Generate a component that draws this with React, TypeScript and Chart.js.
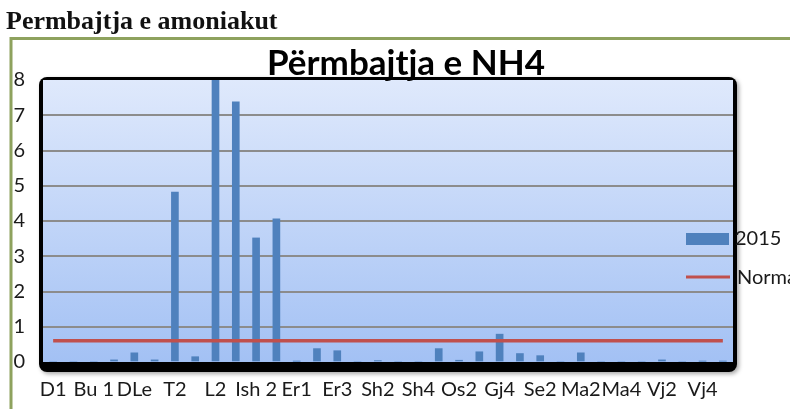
import React, { useEffect, useRef } from 'react';
import { Chart, registerables } from 'chart.js';

Chart.register(...registerables);

const categories = [
  'D1', 'D2', 'Bu 1', 'Bu 2', 'DLe', 'T1', 'T2', 'L1', 'L2', 'Ish 1',
  'Ish 2', 'Ish 3', 'Er1', 'Er2', 'Er3', 'Sh1', 'Sh2', 'Sh3', 'Sh4', 'Os1',
  'Os2', 'Gj3', 'Gj4', 'Se1', 'Se2', 'Ma1', 'Ma2', 'Ma3', 'Ma4', 'Vj1',
  'Vj2', 'Vj3', 'Vj4', 'Vj5',
];

const values2015 = [
  0, 0, 0, 0.06, 0.26, 0.06, 4.82, 0.15, 8.0, 7.38,
  3.52, 4.06, 0.02, 0.38, 0.32, 0, 0.04, 0, 0, 0.38,
  0.05, 0.29, 0.79, 0.24, 0.18, 0, 0.26, 0, 0, 0,
  0.06, 0, 0.02, 0.02,
];

const normaValues = [
  0.6, 0.6, 0.6, 0.6, 0.6, 0.6, 0.6, 0.6, 0.6, 0.6,
  0.6, 0.6, 0.6, 0.6, 0.6, 0.6, 0.6, 0.6, 0.6, 0.6,
  0.6, 0.6, 0.6, 0.6, 0.6, 0.6, 0.6, 0.6, 0.6, 0.6,
  0.6, 0.6, 0.6, 0.6,
];

const yTickValues = [0, 1, 2, 3, 4, 5, 6, 7, 8];

const pageHeading = 'Permbajtja e amoniakut';
const chartTitle = 'Përmbajtja e NH4';
const seriesLabels = ['2015', 'Norma'];

const BAR_COLOR = '#4f81bd';
const LINE_COLOR = '#c0504d';
const TEXT_COLOR = '#1a1a1a';

const decorPlugin = {
  id: 'decor',
  beforeDraw(chart: any) {
    const { ctx, chartArea, width, height } = chart;
    const { left, right, top, bottom } = chartArea;
    ctx.save();
    ctx.fillStyle = '#ffffff';
    ctx.fillRect(0, 0, width, height);

    // page heading
    ctx.fillStyle = '#111111';
    ctx.font = 'bold 26px "Liberation Serif"';
    ctx.textBaseline = 'alphabetic';
    ctx.textAlign = 'left';
    ctx.fillText(pageHeading, 6, 29);

    // green frame
    ctx.strokeStyle = '#8ea25e';
    ctx.lineWidth = 3;
    ctx.beginPath();
    ctx.moveTo(11, height);
    ctx.lineTo(11, 38.5);
    ctx.lineTo(width, 38.5);
    ctx.stroke();

    // plot frame (black rounded with shadow)
    ctx.shadowColor = 'rgba(0,0,0,0.35)';
    ctx.shadowBlur = 4;
    ctx.shadowOffsetX = 2;
    ctx.shadowOffsetY = 2;
    ctx.fillStyle = '#000000';
    ctx.beginPath();
    (ctx as any).roundRect(left - 4, top - 3, right - left + 8, bottom - top + 13, 8);
    ctx.fill();
    ctx.shadowColor = 'transparent';
    ctx.shadowBlur = 0;
    ctx.shadowOffsetX = 0;
    ctx.shadowOffsetY = 0;

    const g = ctx.createLinearGradient(0, top, 0, bottom);
    g.addColorStop(0, '#dfe9fc');
    g.addColorStop(1, '#a3c1f4');
    ctx.fillStyle = g;
    ctx.fillRect(left, top, right - left, bottom - top);
    ctx.restore();
  },
  afterDraw(chart: any) {
    const { ctx, chartArea } = chart;
    const { left, right } = chartArea;
    ctx.save();
    // chart title
    ctx.fillStyle = '#000000';
    ctx.font = 'bold 35px Lato';
    ctx.textAlign = 'center';
    ctx.textBaseline = 'alphabetic';
    ctx.fillText(chartTitle, (left + right) / 2 + 18, 75);

    // legend
    ctx.fillStyle = BAR_COLOR;
    ctx.fillRect(right - 47, 233, 43, 12);
    ctx.strokeStyle = LINE_COLOR;
    ctx.lineWidth = 3;
    ctx.beginPath();
    ctx.moveTo(right - 47, 277);
    ctx.lineTo(right - 3, 277);
    ctx.stroke();
    ctx.fillStyle = TEXT_COLOR;
    ctx.font = '20px Lato';
    ctx.textAlign = 'left';
    ctx.textBaseline = 'middle';
    ctx.fillText(seriesLabels[0], right + 2, 239);
    ctx.fillText(seriesLabels[1], right + 4, 278);
    ctx.restore();
  },
};

export default function App() {
  const canvasRef = useRef<HTMLCanvasElement | null>(null);

  useEffect(() => {
    document.body.style.margin = '0';
    const canvas = canvasRef.current;
    if (!canvas) return;
    const chart = new Chart(canvas, {
      type: 'bar',
      data: {
        labels: categories,
        datasets: [
          {
            type: 'line',
            label: seriesLabels[1],
            data: normaValues,
            borderColor: LINE_COLOR,
            backgroundColor: LINE_COLOR,
            borderWidth: 3.5,
            pointRadius: 0,
            fill: false,
            order: 0,
          } as any,
          {
            type: 'bar',
            label: seriesLabels[0],
            data: values2015,
            backgroundColor: BAR_COLOR,
            barThickness: 7,
            order: 1,
          },
        ],
      },
      options: {
        responsive: false,
        animation: false,
        layout: { padding: { top: 80, right: 57, left: 0, bottom: 0 } },
        plugins: {
          legend: { display: false },
          title: { display: false },
          tooltip: { enabled: false },
        },
        scales: {
          x: {
            grid: { display: false, drawTicks: false },
            border: { display: false },
            afterFit: (scale: any) => { scale.height = 47; },
            ticks: {
              autoSkip: false,
              maxRotation: 0,
              minRotation: 0,
              padding: 16,
              color: TEXT_COLOR,
              font: { family: 'Lato', size: 20 },
              callback: (_v: any, i: number) => (i % 2 === 0 ? categories[i] : ''),
            },
          },
          y: {
            min: yTickValues[0],
            max: yTickValues[yTickValues.length - 1],
            afterFit: (scale: any) => { scale.width = 43; },
            afterBuildTicks: (scale: any) => {
              scale.ticks = yTickValues.map((v) => ({ value: v }));
            },
            grid: {
              drawTicks: false,
              lineWidth: 2,
              color: (c: any) =>
                c.tick && (c.tick.value === 0 || c.tick.value === 8) ? 'rgba(0,0,0,0)' : '#8c8c8c',
            },
            border: { display: false },
            ticks: {
              padding: 18,
              color: TEXT_COLOR,
              font: { family: 'Lato', size: 20 },
            },
          },
        },
      },
      plugins: [decorPlugin],
    });
    return () => chart.destroy();
  }, []);

  return (
    <div style={{ width: 790, height: 409 }}>
      <canvas ref={canvasRef} width={790} height={409} style={{ display: 'block' }} />
    </div>
  );
}
